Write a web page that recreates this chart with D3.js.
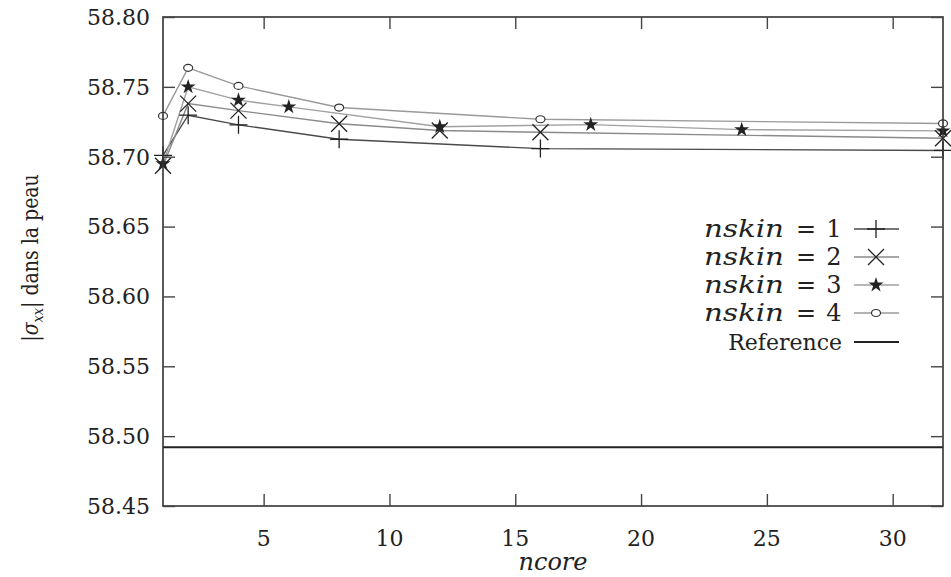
<!DOCTYPE html>
<html><head><meta charset="utf-8">
<script src="https://cdn.jsdelivr.net/npm/d3@7"></script>
<style>
body{margin:0;background:#fff;}
svg{display:block;}
</style></head>
<body>
<script>
// ---- data ----
const xTicks = [5, 10, 15, 20, 25, 30];
const yTicks = [58.45, 58.50, 58.55, 58.60, 58.65, 58.70, 58.75, 58.80];
const ncore1 = [1, 2, 4, 8, 16, 32];
const skin1  = [58.701, 58.7297, 58.7228, 58.7125, 58.7058, 58.7045];
const ncore2 = [1, 2, 4, 8, 12, 16, 32];
const skin2  = [58.6935, 58.738, 58.733, 58.7236, 58.7188, 58.7175, 58.7132];
const ncore3 = [1, 2, 4, 6, 12, 18, 24, 32];
const skin3  = [58.695, 58.750, 58.7405, 58.7357, 58.7215, 58.723, 58.7194, 58.7185];
const ncore4 = [1, 2, 4, 8, 16, 32];
const skin4  = [58.7292, 58.7636, 58.7507, 58.7352, 58.7268, 58.7238];
const referenceValue = 58.492;
const seriesLabels = ["1", "2", "3", "4"];

const FONT = "'DejaVu Serif', 'Liberation Serif', serif";
const W = 951, H = 577;
const m = {left: 163, right: 8, top: 17, bottom: 71};
const svg = d3.select("body").append("svg").attr("width", W).attr("height", H)
  .attr("font-family", FONT);

const x = d3.scaleLinear().domain([1, 32]).range([m.left, W - m.right]);
const y = d3.scaleLinear().domain([58.45, 58.80]).range([H - m.bottom, m.top]);

const series = [
  {xs: ncore1, ys: skin1, sym: "plus", line: "#4a4a4a"},
  {xs: ncore2, ys: skin2, sym: "cross", line: "#8a8a8a"},
  {xs: ncore3, ys: skin3, sym: "star", line: "#a0a0a0"},
  {xs: ncore4, ys: skin4, sym: "circle", line: "#9a9a9a"}
];

function drawMarker(g, type, cx, cy) {
  if (type === "plus") {
    g.append("path").attr("d", `M${cx-9},${cy}H${cx+9}M${cx},${cy-9}V${cy+9}`)
      .attr("stroke", "#222").attr("stroke-width", 1.3).attr("fill", "none");
  } else if (type === "cross") {
    g.append("path").attr("d", `M${cx-8},${cy-8}L${cx+8},${cy+8}M${cx-8},${cy+8}L${cx+8},${cy-8}`)
      .attr("stroke", "#222").attr("stroke-width", 1.3).attr("fill", "none");
  } else if (type === "star") {
    g.append("path").attr("d", d3.symbol().type(d3.symbolStar).size(70)())
      .attr("transform", `translate(${cx},${cy})`).attr("fill", "#222");
  } else {
    g.append("ellipse").attr("cx", cx).attr("cy", cy).attr("rx", 4.5).attr("ry", 3.5)
      .attr("fill", "#fff").attr("stroke", "#333").attr("stroke-width", 1.2);
  }
}

// reference line
svg.append("line").attr("x1", x(1)).attr("x2", x(32))
  .attr("y1", y(referenceValue)).attr("y2", y(referenceValue))
  .attr("stroke", "#222").attr("stroke-width", 2);

// series lines
const line = d3.line().x(d => x(d[0])).y(d => y(d[1]));
series.forEach(s => {
  const pts = s.xs.map((v, i) => [v, s.ys[i]]);
  svg.append("path").datum(pts).attr("d", line)
    .attr("fill", "none").attr("stroke", s.line).attr("stroke-width", 1.4);
});
series.forEach(s => {
  const g = svg.append("g");
  s.xs.forEach((v, i) => drawMarker(g, s.sym, x(v), y(s.ys[i])));
});

// axes & frame
svg.append("rect").attr("x", m.left).attr("y", m.top)
  .attr("width", W - m.left - m.right).attr("height", H - m.top - m.bottom)
  .attr("fill", "none").attr("stroke", "#333").attr("stroke-width", 1.6);

const tl = 12;
const axL = svg.append("g").attr("transform", `translate(${m.left},0)`)
  .call(d3.axisRight(y).tickValues(yTicks).tickSize(tl).tickFormat(""));
const axR = svg.append("g").attr("transform", `translate(${W - m.right},0)`)
  .call(d3.axisLeft(y).tickValues(yTicks).tickSize(tl).tickFormat(""));
const axB = svg.append("g").attr("transform", `translate(0,${H - m.bottom})`)
  .call(d3.axisTop(x).tickValues(xTicks).tickSize(tl).tickFormat(""));
const axT = svg.append("g").attr("transform", `translate(0,${m.top})`)
  .call(d3.axisBottom(x).tickValues(xTicks).tickSize(tl).tickFormat(""));
[axL, axR, axB, axT].forEach(a => {
  a.select(".domain").remove();
  a.attr("font-family", FONT);
  a.selectAll(".tick line").attr("stroke", "#444").attr("stroke-width", 1.4);
});

// tick labels
svg.append("g").selectAll("text").data(yTicks).join("text")
  .attr("x", 150).attr("y", d => y(d)).attr("dy", "0.36em")
  .attr("text-anchor", "end").attr("font-size", 22).attr("fill", "#222")
  .text(d => d.toFixed(2));
svg.append("g").selectAll("text").data(xTicks).join("text")
  .attr("x", d => x(d)).attr("y", 546)
  .attr("text-anchor", "middle").attr("font-size", 22).attr("fill", "#222")
  .text(d => d);

// axis titles
svg.append("text").attr("x", 553).attr("y", 570).attr("text-anchor", "middle")
  .attr("font-size", 24).attr("font-style", "italic").attr("fill", "#222").text("ncore");
const yl = svg.append("text").attr("transform", "translate(38,258) rotate(-90) scale(0.86,1)")
  .attr("text-anchor", "middle").attr("font-size", 22).attr("fill", "#222");
yl.append("tspan").text("|");
yl.append("tspan").attr("font-style", "italic").text("σ");
yl.append("tspan").attr("font-style", "italic").attr("font-size", 15).attr("dy", 5).text("xx");
yl.append("tspan").attr("dy", -5).text("| dans la peau");

// legend
const legRows = [229, 257, 285, 313, 342];
series.forEach((s, i) => {
  const yy = legRows[i];
  svg.append("text").attr("x", 704).attr("y", yy).attr("dy", "0.35em")
    .attr("font-size", 24).attr("font-style", "italic")
    .attr("textLength", 80).attr("lengthAdjust", "spacingAndGlyphs")
    .attr("fill", "#222").text("nskin");
  svg.append("text").attr("x", 806).attr("y", yy).attr("dy", "0.35em")
    .attr("text-anchor", "middle").attr("font-size", 24).attr("fill", "#222").text("=");
  svg.append("text").attr("x", 834).attr("y", yy).attr("dy", "0.35em")
    .attr("text-anchor", "middle").attr("font-size", 24).attr("fill", "#222").text(seriesLabels[i]);
  svg.append("line").attr("x1", 854).attr("x2", 899).attr("y1", yy).attr("y2", yy)
    .attr("stroke", s.line).attr("stroke-width", 1.4);
  drawMarker(svg.append("g"), s.sym, 876, yy);
});
svg.append("text").attr("x", 842).attr("y", legRows[4]).attr("dy", "0.35em")
  .attr("text-anchor", "end").attr("font-size", 22).attr("fill", "#222").text("Reference");
svg.append("line").attr("x1", 854).attr("x2", 899).attr("y1", legRows[4]).attr("y2", legRows[4])
  .attr("stroke", "#222").attr("stroke-width", 2);
</script>
</body></html>
